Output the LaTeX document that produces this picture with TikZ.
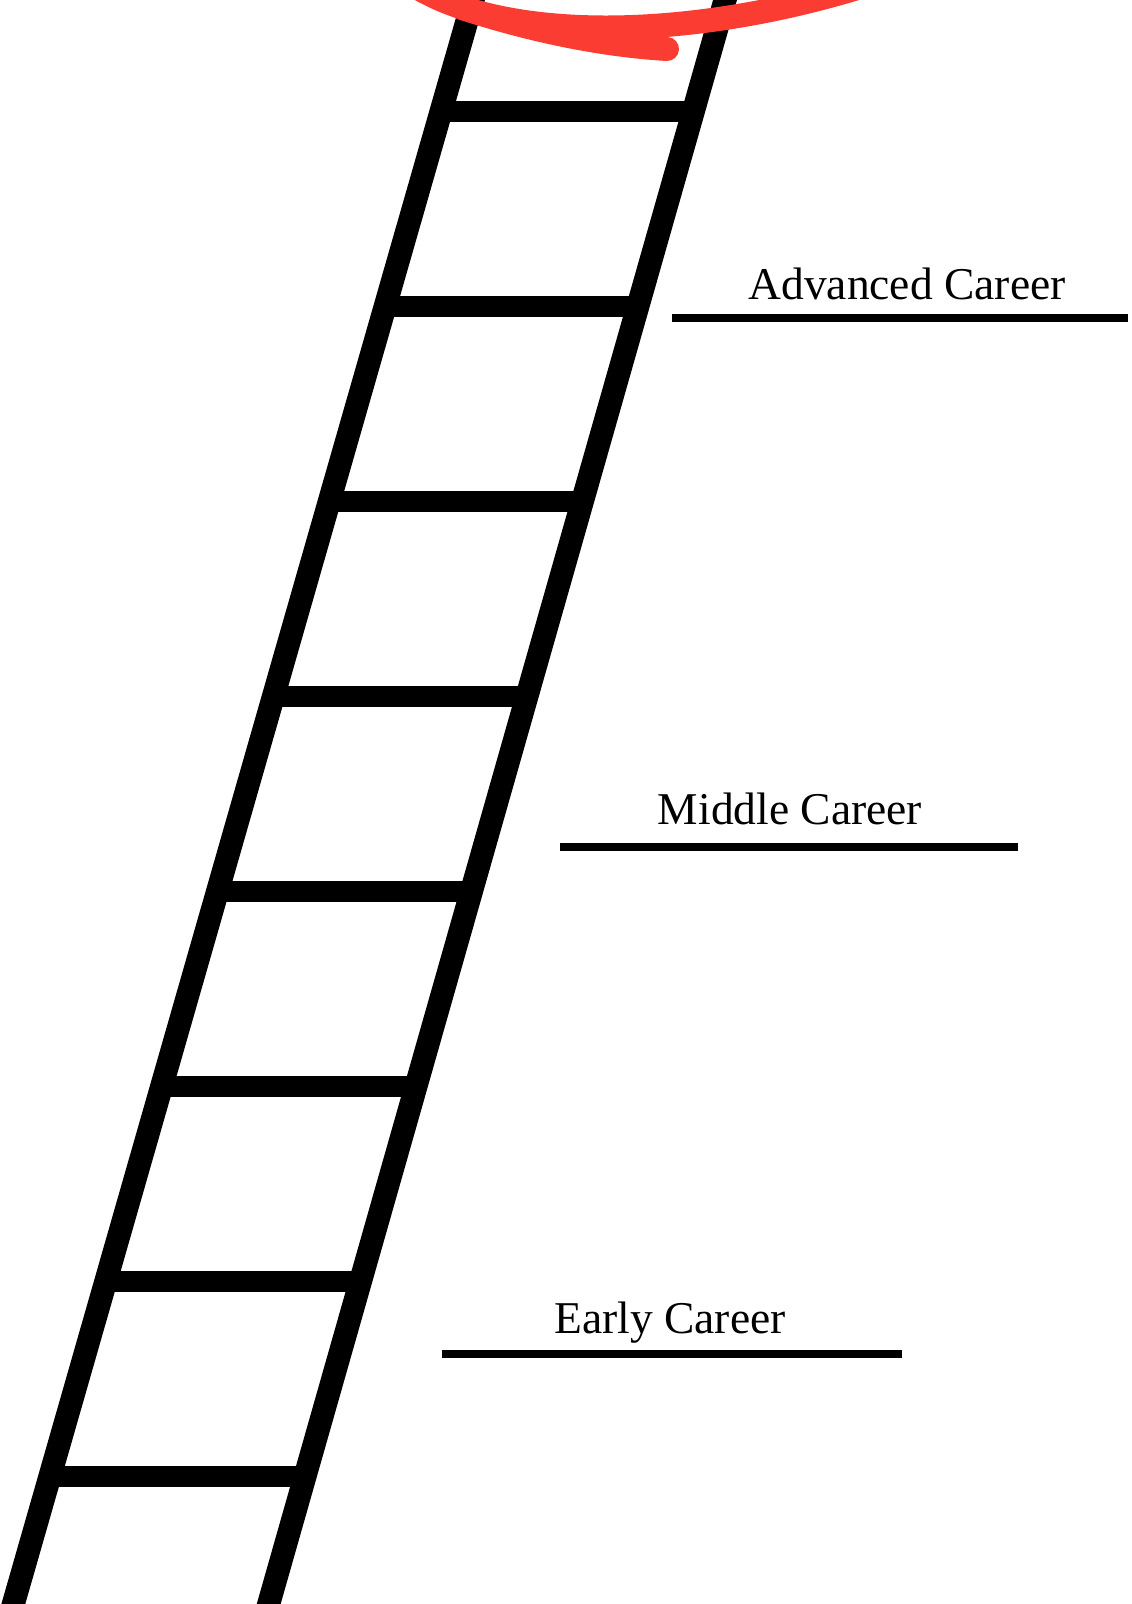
\documentclass[tikz,border=0pt]{standalone}
\usepackage{fontspec}
\setmainfont{Liberation Serif}
\definecolor{markred}{RGB}{250,60,50}
\begin{document}
\begin{tikzpicture}[x=0.5pt,y=-0.5pt,
  rail/.style={line width=11.5pt},
  rung/.style={line width=10.5pt},
  levelline/.style={line width=4pt},
  careerlabel/.style={font=\fontsize{22.75pt}{27pt}\selectfont, anchor=base, inner sep=0pt},
  marker/.style={draw=markred, line width=12pt, line cap=round}]
\useasboundingbox (0,0) rectangle (1131,1604);
\clip (0,0) rectangle (1131,1604);
% rails
\coordinate (LT) at (478.7,-20);
\coordinate (LB) at (7.6,1624);
\coordinate (RT) at (730.7,-20);
\coordinate (RB) at (263.0,1624);
\draw[rail] (LT) -- (LB);
\draw[rail] (RT) -- (RB);
% rungs
\foreach \k in {0,...,7} {
  \pgfmathsetmacro{\yy}{112+194.86*\k}
  \pgfmathsetmacro{\xl}{473-0.2867*\yy}
  \pgfmathsetmacro{\xr}{725-0.2845*\yy}
  \coordinate (rl\k) at (\xl,\yy);
  \coordinate (rr\k) at (\xr,\yy);
  \draw[rung] (rl\k) -- (rr\k);
}
% labels
\node[careerlabel] (adv) at (907,300) {Advanced Career};
\coordinate (advA) at (672,318.5);
\coordinate (advB) at (1128,318.5);
\draw[levelline] (advA) -- (advB);
\node[careerlabel] (mid) at (790,824) {Middle Career};
\coordinate (midA) at (560,846.5);
\coordinate (midB) at (1018,846.5);
\draw[levelline] (midA) -- (midB);
\node[careerlabel] (early) at (670,1333) {Early Career};
\coordinate (earA) at (442,1354);
\coordinate (earB) at (902,1354);
\draw[levelline] (earA) -- (earB);
% red marker stroke
\coordinate (m0) at (418,-12);
\coordinate (m1) at (864,-14);
\coordinate (t0) at (462,8);
\coordinate (t1) at (667,49);
\draw[marker] (m0) .. controls (510,42) and (690,40) .. (m1);
\draw[marker] (t0) .. controls (530,30) and (600,45) .. (t1);
\end{tikzpicture}
\end{document}
